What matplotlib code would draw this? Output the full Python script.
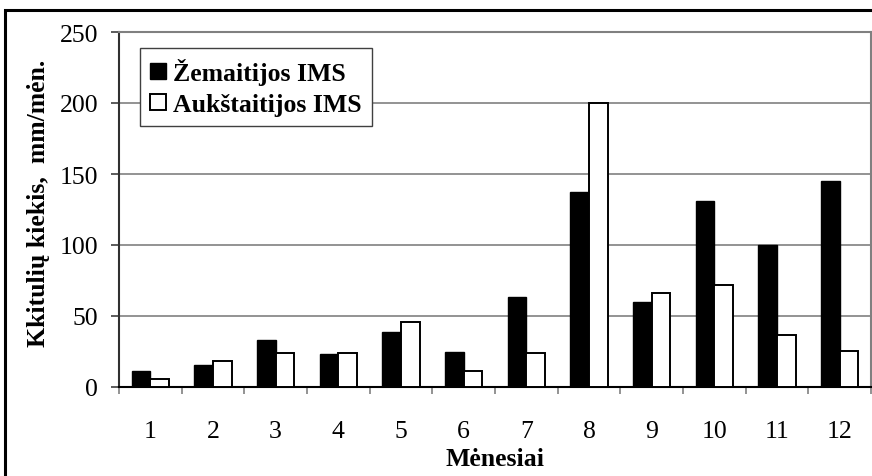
import numpy as np
import matplotlib
matplotlib.use('Agg')
import matplotlib.pyplot as plt
from matplotlib.patches import Rectangle

# ── Data ──────────────────────────────────────────────────────────────────────
months = [1, 2, 3, 4, 5, 6, 7, 8, 9, 10, 11, 12]
zemaitija = [11.6, 15.7, 33, 23, 38.6, 24.3, 63.6, 137, 59.6, 131.3, 100.3, 145.4]
aukstaitija = [5.7, 18.3, 24, 24, 45.7, 11.2, 23.9, 200, 66.1, 71.7, 36.8, 25.3]
series_names = ['Žemaitijos IMS', 'Aukštaitijos IMS']
y_ticks = [0, 50, 100, 150, 200, 250]

# ── Style ─────────────────────────────────────────────────────────────────────
plt.rcParams.update({
    'font.family': 'Liberation Serif',
    'font.size': 18.5,
})
GRID = '#808080'

fig = plt.figure(figsize=(8.72, 4.77), dpi=100)
ax = fig.add_axes([119 / 872, 1 - 388 / 477, 752 / 872, 355 / 477])

x = np.arange(len(months))
w = 0.3
ax.bar(x - w / 2, zemaitija, width=w, color='black', edgecolor='black',
       linewidth=1.0, label=series_names[0], zorder=3)
ax.bar(x + w / 2, aukstaitija, width=w, color='white', edgecolor='black',
       linewidth=1.4, label=series_names[1], zorder=3)

ax.set_xlim(-0.5, len(months) - 0.5)
ax.set_ylim(0, 250)
ax.set_yticks(y_ticks)
ax.yaxis.grid(True, color=GRID, linewidth=1.2, zorder=0)
ax.set_axisbelow(True)

# category labels at centres, tick marks at boundaries
ax.set_xticks(x)
ax.set_xticklabels([str(m) for m in months])
ax.set_xticks(np.arange(-0.5, len(months)), minor=True)
ax.tick_params(axis='x', which='major', length=0, pad=24)
ax.tick_params(axis='x', which='minor', length=5, width=1.2, color=GRID, direction='out')
ax.tick_params(axis='y', length=6, width=1.2, color='#404040', direction='out', pad=9)

for side in ['top', 'right']:
    ax.spines[side].set_color(GRID)
    ax.spines[side].set_linewidth(1.5)
ax.spines['left'].set_color('#303030')
ax.spines['left'].set_linewidth(1.5)
ax.spines['bottom'].set_color('black')
ax.spines['bottom'].set_linewidth(1.5)

ax.set_ylabel('Kkitulių kiekis,  mm/mėn.', fontweight='bold', fontsize=18.5)
ax.yaxis.set_label_coords(-0.092, 0.52)
ax.set_xlabel('Mėnesiai', fontweight='bold', fontsize=18.5)
ax.xaxis.set_label_coords(0.5, -0.17)

leg = ax.legend(loc='upper left', bbox_to_anchor=(0.028, 0.955),
                fancybox=False, framealpha=1, edgecolor='#404040',
                handlelength=0.6, handleheight=0.6, handletextpad=0.3,
                borderpad=0.4, labelspacing=0.3, borderaxespad=0,
                prop={'weight': 'bold', 'size': 18.5})
leg.get_frame().set_linewidth(1.0)

# outer frame of the figure (only left and top visible in the original)
fig.patches.append(Rectangle((5 / 872, -0.1), 1.2, 1 - 11 / 477 + 0.1,
                             transform=fig.transFigure, fill=False,
                             edgecolor='black', linewidth=2.2))

fig.savefig('out.png', dpi=100)
